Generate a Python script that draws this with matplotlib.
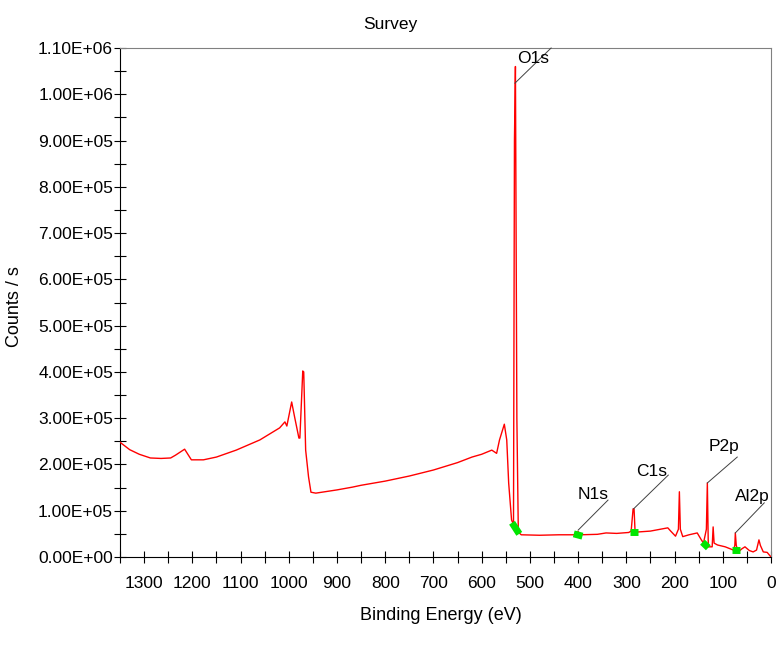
import matplotlib
matplotlib.use("Agg")
import matplotlib.pyplot as plt
from matplotlib.ticker import MultipleLocator, FuncFormatter
import numpy as np

plt.rcParams['font.family'] = ['Liberation Sans', 'DejaVu Sans']

# Binding energy (eV) and counts/s
energy = [1350, 1330, 1310, 1287, 1265, 1245, 1235, 1216, 1202, 1177, 1150, 1109, 1060,
          1019, 1008, 1004, 994, 988, 979, 977, 971, 969, 965, 959, 954, 944, 900, 868,
          850, 800, 750, 700, 650, 620, 600, 579, 569, 563, 553, 548, 544, 538, 534, 532,
          530, 527, 524, 518, 480, 440, 405, 400, 396, 360, 342, 320, 295, 290, 286, 284,
          282, 277, 250, 214, 208, 198, 192, 190, 188, 183, 170, 153, 145, 140, 134, 132,
          130, 122, 120, 118, 111, 95, 78, 75, 74, 72, 68, 60, 54, 45, 37, 30, 25, 22,
          16, 8, 0]
counts = [248e3, 232e3, 222e3, 214e3, 213e3, 214e3, 220e3, 233e3, 210e3, 210e3, 216e3, 231e3, 253e3,
          279e3, 292e3, 283e3, 335e3, 303e3, 257e3, 257e3, 402e3, 400e3, 231e3, 173e3, 140e3, 138e3, 145e3, 151e3,
          155e3, 164e3, 175e3, 188e3, 204e3, 216e3, 222e3, 231e3, 224e3, 253e3, 287e3, 253e3, 160e3, 80e3, 70e3, 900e3,
          1.06e6, 300e3, 54e3, 48e3, 47e3, 48e3, 48e3, 55e3, 48e3, 49e3, 52e3, 51e3, 53e3, 56e3, 104e3, 104e3,
          58e3, 54e3, 56e3, 63e3, 56e3, 45e3, 60e3, 141e3, 60e3, 44e3, 48e3, 52e3, 38e3, 30e3, 60e3, 160e3,
          22e3, 22e3, 65e3, 30e3, 26e3, 22e3, 15e3, 25e3, 52e3, 25e3, 11e3, 18e3, 22e3, 14e3, 11e3, 15e3, 37e3, 25e3,
          11e3, 10e3, 0]

# Background lines (green) per peak: start (eV, counts) and end (eV, counts)
bg_start = [(537, 74e3), (409, 50e3), (292, 54e3), (142, 32e3), (80, 15e3)]
bg_end = [(522, 50e3), (391, 45e3), (276, 54e3), (130, 20e3), (64, 15e3)]

# Peak labels: name, leader start (eV, counts), leader end, text centre
peak_names = ['O1s', 'N1s', 'C1s', 'P2p', 'Al2p']
leader_start = [(531, 1.024e6), (400, 58e3), (285, 104e3), (132, 160e3), (74, 52e3)]
leader_end = [(456, 1.10e6), (338, 123e3), (213, 177e3), (70, 216e3), (14, 117e3)]
text_pos = [(493, 1.078e6), (369, 136e3), (248, 184e3), (97, 238e3), (39, 130e3)]

fig = plt.figure(figsize=(7.81, 6.5), dpi=100)
ax = fig.add_axes([120/781, 93/650, 651/781, 509/650])

e = np.array(energy, dtype=float)
c = np.array(counts, dtype=float)
ax.plot(e, c, color='#ff0000', lw=1.0, zorder=3)

for p0, p1 in zip(bg_start, bg_end):
    ax.plot([p0[0], p1[0]], [p0[1], p1[1]], color='#00e600', lw=5, solid_capstyle='butt', zorder=4)

for name, p0, p1, tp in zip(peak_names, leader_start, leader_end, text_pos):
    ax.plot([p0[0], p1[0]], [p0[1], p1[1]], color='#404040', lw=0.7, zorder=5, clip_on=False)
    ax.text(tp[0], tp[1], name, ha='center', va='center', fontsize=12.5, color='black', zorder=6)

ax.set_xlim(1350, 0)
ax.set_ylim(0, 1.1e6)
ax.xaxis.set_major_locator(MultipleLocator(100))
ax.xaxis.set_minor_locator(MultipleLocator(50))
ax.yaxis.set_major_locator(MultipleLocator(1e5))
ax.yaxis.set_minor_locator(MultipleLocator(5e4))
ax.yaxis.set_major_formatter(FuncFormatter(lambda v, p: ('%.2E' % v)))
ax.xaxis.set_major_formatter(FuncFormatter(lambda v, p: '%d' % round(v)))
ax.tick_params(which='both', direction='inout', length=8, width=0.8, labelsize=12.5, color='black')
ax.tick_params(axis='x', pad=10)
ax.tick_params(axis='y', pad=1)
for side in ['top', 'right']:
    ax.spines[side].set_color('#808080')
for side in ['left', 'bottom']:
    ax.spines[side].set_color('black')

fig.text(390/781, 1 - 24/650, 'Survey', ha='center', va='center', fontsize=12.5)
fig.text(15/781, 1 - 307/650, 'Counts / s', ha='center', va='center', rotation=90, fontsize=13)
fig.text(441/781, 1 - 616/650, 'Binding Energy (eV)', ha='center', va='center', fontsize=13)

fig.savefig('out.png', dpi=100)
